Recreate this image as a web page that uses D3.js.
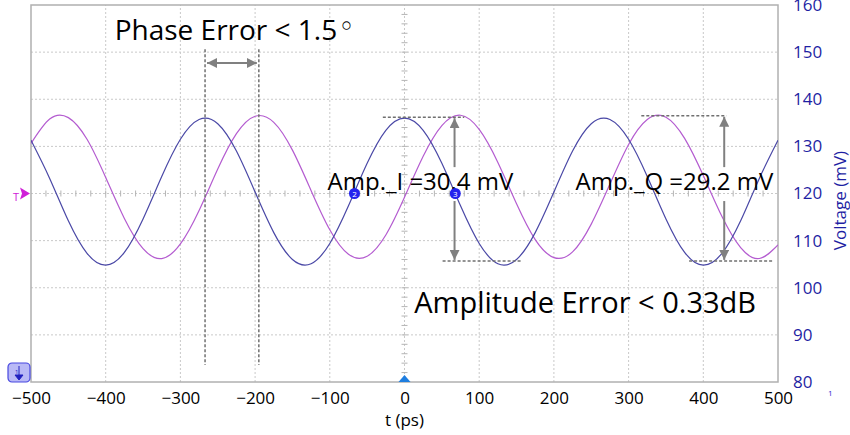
<!DOCTYPE html>
<html>
<head>
<meta charset="utf-8">
<script src="https://cdn.jsdelivr.net/npm/d3@7"></script>
<style>
  body { margin: 0; background: #fff; }
  text { font-family: "Open Sans", sans-serif; }
</style>
</head>
<body>
<script>
let width = 850;
let height = 435;
let marginTop = 5;
let marginRight = 72;
let marginBottom = 53;
let marginLeft = 31;

const times = [-500, -475, -450, -425, -400, -375, -350, -325, -300, -275, -250, -225, -200, -175, -150, -125, -100, -75, -50, -25,
  0, 25, 50, 75, 100, 125, 150, 175, 200, 225, 250, 275, 300, 325, 350, 375, 400, 425, 450, 475, 500];
const traceI = [131.3, 123.2, 114.2, 107.3, 104.8, 107.5, 114.6, 123.6, 131.5, 135.7, 134.8, 129.0, 120.3, 111.7, 106.0, 105.1, 109.4, 117.4, 126.4, 133.4,
  136.0, 133.4, 126.4, 117.4, 109.4, 105.1, 106.0, 111.7, 120.3, 129.0, 134.8, 135.7, 131.5, 123.6, 114.6, 107.5, 104.8, 107.3, 114.2, 123.2, 131.3];
const traceQ = [130.6, 135.8, 136.1, 131.5, 123.4, 114.7, 108.3, 106.2, 109.3, 116.4, 125.2, 132.7, 136.4, 135.1, 129.2, 120.6, 112.3, 107.1, 106.7, 111.2,
  119.2, 127.9, 134.4, 136.6, 133.6, 126.6, 117.8, 110.2, 106.4, 107.6, 113.5, 122.0, 130.4, 135.7, 136.2, 131.7, 123.8, 115.1, 108.5, 106.2, 109.1];

const xTicks = [-500, -400, -300, -200, -100, 0, 100, 200, 300, 400, 500];
const yTicks = [80, 90, 100, 110, 120, 130, 140, 150, 160];

// annotation anchors (t in ps, v in mV)
const phaseT = [-267, -195];
const phaseSpan = [83.6, 150.6];
const phaseArrowV = 147.7;
const ampLabels = ["Amp._I =30.4 mV", "Amp._Q =29.2 mV"];
const ampLabelT = [-103, 229];
const ampArrowT = [67, 428];
const ampTop = [136.2, 136.5];
const ampBottom = [105.7, 105.7];
const ampTopSpan = [[-29, 80], [317, 431]];
const ampBottomSpan = [[51, 157], [381, 494]];
const cursorT = [-67, 68];
const cursorNames = ["2", "3"];

const x = d3.scaleLinear().domain([-500, 500]).range([marginLeft, width - marginRight]);
const y = d3.scaleLinear().domain([80, 160]).range([height - marginBottom, marginTop]);

const svg = d3.select("body").append("svg")
  .attr("width", width)
  .attr("height", height)
  .attr("viewBox", [0, 0, width, height]);

const defs = svg.append("defs");
defs.append("clipPath").attr("id", "clip")
  .append("rect")
  .attr("x", marginLeft).attr("y", marginTop)
  .attr("width", width - marginLeft - marginRight)
  .attr("height", height - marginTop - marginBottom);

["start", "end"].forEach(k => {
  defs.append("marker")
    .attr("id", "head-" + k)
    .attr("viewBox", "0 0 10 10")
    .attr("refX", 10).attr("refY", 5)
    .attr("markerWidth", 5).attr("markerHeight", 5)
    .attr("orient", k === "end" ? "auto" : "auto-start-reverse")
    .append("path")
    .attr("d", "M0,0L10,5L0,10Z")
    .attr("fill", "#808080");
});

// grid
const grid = svg.append("g").attr("stroke", "#c9c9c9").attr("stroke-dasharray", "2,2");
grid.selectAll(".vg").data(xTicks.slice(1, -1)).join("line")
  .attr("x1", d => x(d)).attr("x2", d => x(d))
  .attr("y1", y(80)).attr("y2", y(160));
grid.selectAll(".hg").data(yTicks.slice(1, -1)).join("line")
  .attr("y1", d => y(d)).attr("y2", d => y(d))
  .attr("x1", x(-500)).attr("x2", x(500));

// minor ticks on centre lines
const minor = svg.append("g").attr("stroke", "#b5b5b5");
minor.selectAll(".mx").data(d3.range(-480, 500, 20)).join("line")
  .attr("x1", d => x(d)).attr("x2", d => x(d))
  .attr("y1", y(120) - 3).attr("y2", y(120) + 3);
minor.selectAll(".my").data(d3.range(82, 160, 2)).join("line")
  .attr("y1", d => y(d)).attr("y2", d => y(d))
  .attr("x1", x(0) - 3).attr("x2", x(0) + 3);

// frame
svg.append("rect")
  .attr("x", marginLeft).attr("y", marginTop)
  .attr("width", width - marginLeft - marginRight)
  .attr("height", height - marginTop - marginBottom)
  .attr("fill", "none").attr("stroke", "#b0b0b0").attr("stroke-width", 1.5);

// traces
const line = d3.line()
  .x((d, i) => x(times[i]))
  .y(d => y(d))
  .curve(d3.curveNatural);

const plot = svg.append("g").attr("clip-path", "url(#clip)");
plot.append("path").datum(traceQ)
  .attr("fill", "none").attr("stroke", "#b45cd0").attr("stroke-width", 1.2)
  .attr("d", line);
plot.append("path").datum(traceI)
  .attr("fill", "none").attr("stroke", "#4a48a6").attr("stroke-width", 1.2)
  .attr("d", line);

// x axis
svg.append("g")
  .attr("transform", `translate(0,${y(80)})`)
  .call(d3.axisBottom(x).tickValues(xTicks).tickSize(0).tickPadding(10))
  .call(g => g.select(".domain").remove())
  .call(g => g.selectAll("text").attr("font-size", 17).attr("fill", "#000")
    .attr("font-family", "Open Sans, sans-serif"));

svg.append("text")
  .attr("x", x(0)).attr("y", 426)
  .attr("text-anchor", "middle")
  .attr("font-size", 17)
  .text("t (ps)");

// right y axis
svg.append("g")
  .attr("transform", `translate(${x(500)},0)`)
  .call(d3.axisRight(y).tickValues(yTicks).tickSize(0).tickPadding(15))
  .call(g => g.select(".domain").remove())
  .call(g => g.selectAll("text").attr("font-size", 17).attr("fill", "#1f1fa3")
    .attr("font-family", "Open Sans, sans-serif"));

svg.append("text")
  .attr("transform", `translate(846,${y(118.5)}) rotate(-90)`)
  .attr("text-anchor", "middle")
  .attr("font-size", 17)
  .attr("fill", "#1f1fa3")
  .text("Voltage (mV)");

svg.append("text")
  .attr("x", 828).attr("y", 396)
  .attr("font-size", 8).attr("fill", "#2a2ad0")
  .text("1");

// phase error annotation
svg.selectAll(".phase").data(phaseT).join("line")
  .attr("x1", d => x(d)).attr("x2", d => x(d))
  .attr("y1", y(phaseSpan[1])).attr("y2", y(phaseSpan[0]))
  .attr("stroke", "#707070").attr("stroke-width", 1.5).attr("stroke-dasharray", "3,2");

svg.append("line")
  .attr("x1", x(phaseT[0]) + 2).attr("x2", x(phaseT[1]) - 2)
  .attr("y1", y(phaseArrowV)).attr("y2", y(phaseArrowV))
  .attr("stroke", "#808080").attr("stroke-width", 2)
  .attr("marker-start", "url(#head-start)")
  .attr("marker-end", "url(#head-end)");

const phaseText = svg.append("text")
  .attr("x", x(-388)).attr("y", y(152.6))
  .attr("font-size", 28)
  .text("Phase Error < 1.5");
phaseText.append("tspan")
  .attr("font-size", 28).attr("dy", -4).attr("dx", 1)
  .attr("font-family", "DejaVu Sans")
  .text("◦");

// amplitude annotations
ampArrowT.forEach((t, i) => {
  svg.append("line")
    .attr("x1", x(ampTopSpan[i][0])).attr("x2", x(ampTopSpan[i][1]))
    .attr("y1", y(ampTop[i])).attr("y2", y(ampTop[i]))
    .attr("stroke", "#707070").attr("stroke-width", 1.5).attr("stroke-dasharray", "3,2");
  svg.append("line")
    .attr("x1", x(ampBottomSpan[i][0])).attr("x2", x(ampBottomSpan[i][1]))
    .attr("y1", y(ampBottom[i])).attr("y2", y(ampBottom[i]))
    .attr("stroke", "#707070").attr("stroke-width", 1.5).attr("stroke-dasharray", "3,2");
  svg.append("line")
    .attr("x1", x(t)).attr("x2", x(t))
    .attr("y1", y(125.6)).attr("y2", y(ampTop[i]) + 1)
    .attr("stroke", "#808080").attr("stroke-width", 2)
    .attr("marker-end", "url(#head-end)");
  svg.append("line")
    .attr("x1", x(t)).attr("x2", x(t))
    .attr("y1", y(118.4)).attr("y2", y(ampBottom[i]) - 1)
    .attr("stroke", "#808080").attr("stroke-width", 2)
    .attr("marker-end", "url(#head-end)");
  svg.append("text")
    .attr("x", x(ampLabelT[i])).attr("y", y(120.8))
    .attr("font-size", 24)
    .text(ampLabels[i]);
});

svg.append("text")
  .attr("x", x(13)).attr("y", y(94.7))
  .attr("font-size", 29)
  .text("Amplitude Error < 0.33dB");

// cursors
const cur = svg.selectAll(".cur").data(cursorT).join("g")
  .attr("transform", d => `translate(${x(d)},${y(120)})`);
cur.append("circle").attr("r", 5.5).attr("fill", "#2323ee");
cur.append("text")
  .attr("text-anchor", "middle").attr("dy", 3)
  .attr("font-size", 8).attr("fill", "#fff")
  .text((d, i) => cursorNames[i]);

// trigger marker on the left
svg.append("text")
  .attr("x", 13).attr("y", y(120) + 7)
  .attr("font-size", 11).attr("fill", "#d020d8")
  .text("T");
svg.append("path")
  .attr("transform", `translate(20,${y(120)})`)
  .attr("d", "M0,-6L10,0L0,6L2,0Z")
  .attr("fill", "#d020d8");

// time reference marker
svg.append("path")
  .attr("transform", `translate(${x(0)},${y(80)})`)
  .attr("d", "M-6,0L0,-7L6,0Z")
  .attr("fill", "#1e7ee0");

// channel badge
const badge = svg.append("g").attr("transform", `translate(8,${y(80) - 19})`);
badge.append("rect")
  .attr("width", 22).attr("height", 19).attr("rx", 4)
  .attr("fill", "#b9b9f6").attr("stroke", "#4848e0").attr("stroke-width", 1.2);
badge.append("path")
  .attr("d", "M11,3L11,12M7,12L15,12L11,17Z")
  .attr("stroke", "#2020c0").attr("fill", "#2020c0").attr("stroke-width", 1);
badge.append("text")
  .attr("x", 7).attr("y", 11)
  .attr("font-size", 6).attr("fill", "#2020c0")
  .text("1");
</script>
</body>
</html>
